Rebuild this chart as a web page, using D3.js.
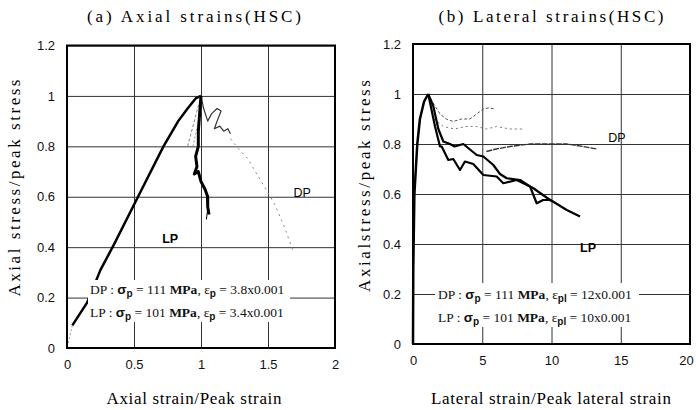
<!DOCTYPE html>
<html>
<head>
<meta charset="utf-8">
<script src="https://cdn.jsdelivr.net/npm/d3@7"></script>
<style>
  body { margin: 0; background: #fff; }
  svg { display: block; }
</style>
</head>
<body>
<svg id="fig" width="696" height="410"></svg>
<script>
// ---- data ----
const yTicks = [0, 0.2, 0.4, 0.6, 0.8, 1, 1.2];
const xTicksA = [0, 0.5, 1, 1.5, 2];
const xTicksB = [0, 5, 10, 15, 20];

// (a) axial strains
const lpAxialUp = [[0.04,0.09],[0.15,0.18],[0.25,0.31],[0.35,0.41],[0.53,0.6],[0.72,0.8],[0.83,0.9],[0.9,0.95],[0.96,0.99],[1.0,1.0]];
const lpAxialDown = [[1.0,1.0],[0.99,0.93],[0.98,0.86],[0.98,0.8],[0.96,0.76],[0.97,0.72],[0.95,0.69],[0.98,0.7],[1.0,0.66],[1.03,0.63],[1.05,0.6],[1.05,0.56],[1.06,0.53]];
const lpAxialTail = [[1.04,0.6],[1.05,0.55],[1.04,0.51]];
const lpAxialStart = [[0.01,0.02],[0.04,0.09]];
const dpAxialUp = [[0.9,0.8],[0.95,0.9],[1.0,1.0]];
const dpAxialUp2 = [[0.94,0.8],[0.98,0.9],[1.01,0.96]];
const dpAxialDown = [[1.0,1.0],[1.02,0.95],[1.05,0.9],[1.08,0.93],[1.12,0.95],[1.15,0.94],[1.12,0.9],[1.1,0.87],[1.14,0.88],[1.17,0.86],[1.2,0.87],[1.22,0.85]];
const dpAxialTail = [[1.22,0.83],[1.28,0.79],[1.35,0.75],[1.45,0.66],[1.55,0.57],[1.63,0.47],[1.69,0.38]];

// (b) lateral strains
const latUp = [[0,0],[0.02,0.3],[0.1,0.6],[0.31,0.8],[0.5,0.9],[0.8,0.97],[1.1,1.0]];
const lpLatA = [[1.1,1.0],[1.47,0.95],[1.83,0.86],[2.19,0.81],[2.67,0.8],[3.0,0.79],[3.63,0.8],[4.6,0.756],[5.08,0.75],[5.8,0.716],[6.28,0.68],[6.77,0.663],[7.73,0.656],[8.45,0.63],[8.69,0.623],[9.9,0.576],[10.1,0.57],[11.1,0.536],[12.06,0.51]];
const lpLatB = [[1.1,1.0],[1.59,0.87],[1.95,0.79],[2.07,0.79],[2.55,0.736],[2.91,0.74],[3.39,0.696],[3.75,0.73],[4.35,0.72],[5.08,0.676],[6.04,0.67],[6.52,0.643],[7.49,0.656],[8.45,0.63],[8.93,0.563],[9.4,0.576],[9.9,0.576],[10.1,0.57]];
const dpLatA = [[1.1,1.0],[1.5,0.96],[1.95,0.92],[2.4,0.9],[2.9,0.89],[3.5,0.9],[4.1,0.9],[4.6,0.92],[5.08,0.94],[5.5,0.945],[5.9,0.94]];
const dpLatB = [[1.5,0.9],[2.2,0.87],[3.0,0.86],[3.8,0.87],[4.6,0.87],[5.3,0.86],[6.04,0.87],[7.0,0.86],[7.96,0.86]];
const dpLatC = [[5.3,0.77],[6.0,0.78],[7.0,0.79],[8.45,0.8],[10.0,0.8],[11.1,0.8],[12.3,0.79],[13.3,0.78]];

// annotation texts
const notesA = [["DP", "111", "p", "3.8x0.001"], ["LP", "101", "p", "3.4x0.001"]];
const notesB = [["DP", "111", "pl", "12x0.001"], ["LP", "101", "pl", "10x0.001"]];

const svg = d3.select("#fig");
const serif = "'Liberation Serif', 'DejaVu Serif', serif";
const sans = "'Liberation Sans', Arial, sans-serif";

function panel(opt) {
  const x = d3.scaleLinear().domain(opt.xDomain).range(opt.xRange);
  const y = d3.scaleLinear().domain([0, 1.2]).range(opt.yRange);
  const g = svg.append("g");
  const w = opt.xRange[1] - opt.xRange[0];
  const h = opt.yRange[0] - opt.yRange[1];

  // grid + tick labels
  const ya = g.append("g")
      .attr("transform", `translate(${opt.xRange[0]},0)`)
      .call(d3.axisLeft(y).tickValues(yTicks).tickSizeInner(-w).tickSizeOuter(0).tickPadding(12).tickFormat(d3.format("")));
  const xa = g.append("g")
      .attr("transform", `translate(0,${opt.yRange[0]})`)
      .call(d3.axisBottom(x).tickValues(opt.xTicks).tickSizeInner(-h).tickSizeOuter(0).tickPadding(12).tickFormat(d3.format("")));
  [ya, xa].forEach(a => {
    a.select(".domain").remove();
    a.selectAll("line").attr("stroke", "#333").attr("stroke-width", 1);
    a.selectAll("text").attr("font-family", sans).attr("font-size", 13).attr("fill", "#111");
  });
  xa.selectAll(".tick:last-of-type text").attr("dx", opt.lastDx);

  const line = d3.line().x(d => x(d[0])).y(d => y(d[1]));
  opt.curves.forEach(c => {
    g.append("path")
        .attr("d", line(c.data))
        .attr("fill", "none")
        .attr("stroke", c.color || "#000")
        .attr("stroke-width", c.width)
        .attr("stroke-dasharray", c.dash || null)
        .attr("stroke-linejoin", "round");
  });

  // white box behind annotation
  g.append("rect")
      .attr("x", opt.box[0]).attr("y", opt.box[1])
      .attr("width", opt.box[2]).attr("height", opt.box[3])
      .attr("fill", "#fff");

  // frame
  g.append("rect")
      .attr("x", opt.xRange[0]).attr("y", opt.yRange[1])
      .attr("width", w).attr("height", h)
      .attr("fill", "none").attr("stroke", "#000").attr("stroke-width", 2);

  // labels DP / LP
  opt.tags.forEach(t => {
    g.append("text").attr("x", x(t[1])).attr("y", y(t[2]))
        .attr("font-family", sans).attr("font-size", 12.5).attr("font-weight", t[0] === "LP" ? "bold" : "normal")
        .text(t[0]);
  });

  // annotations
  opt.notes.forEach((n, i) => {
    const t = g.append("text")
        .attr("x", opt.noteX).attr("y", opt.noteY + i * 23)
        .attr("font-family", serif).attr("font-size", 13.5).attr("fill", "#111");
    t.append("tspan").text(n[0] + " :  ");
    t.append("tspan").attr("font-family", sans).attr("font-weight", "bold").text("σ");
    t.append("tspan").attr("font-family", sans).attr("font-weight", "bold").attr("font-size", 10).attr("dy", 3).text("p");
    t.append("tspan").attr("dy", -3).text(" = " + n[1] + " ");
    t.append("tspan").attr("font-weight", "bold").text("MPa");
    t.append("tspan").text(",  ε");
    t.append("tspan").attr("font-family", sans).attr("font-weight", "bold").attr("font-size", 10).attr("dy", 3).text(n[2]);
    t.append("tspan").attr("dy", -3).text(" = " + n[3]);
  });

  // titles
  g.append("text").attr("x", opt.cx).attr("y", 22).attr("text-anchor", "middle")
      .attr("font-family", serif).attr("font-size", 17).attr("textLength", opt.titleLen)
      .text(opt.title);
  g.append("text").attr("x", opt.cx).attr("y", 404).attr("text-anchor", "middle")
      .attr("font-family", serif).attr("font-size", 17).attr("textLength", opt.xLabelLen)
      .text(opt.xLabel);
  g.append("text").attr("transform", `translate(${opt.yLabelX},${opt.yLabelY}) rotate(-90)`)
      .attr("text-anchor", "middle")
      .attr("font-family", serif).attr("font-size", 17).attr("textLength", opt.yLabelLen)
      .text(opt.yLabel);
}

panel({
  xDomain: [0, 2], xRange: [67, 335], yRange: [348, 45.5], xTicks: xTicksA, lastDx: 0,
  box: [88, 280, 202, 42],
  curves: [
    {data: lpAxialStart, width: 1, color: "#999", dash: "2,2"},
    {data: dpAxialUp, width: 0.8, color: "#666", dash: "3,2"},
    {data: dpAxialUp2, width: 0.8, color: "#888", dash: "2,2"},
    {data: dpAxialDown, width: 1.2, color: "#333"},
    {data: dpAxialTail, width: 1, color: "#888", dash: "2,4"},
    {data: lpAxialUp, width: 2.5},
    {data: lpAxialDown, width: 3},
    {data: lpAxialTail, width: 1}
  ],
  tags: [["DP", 1.69, 0.6], ["LP", 0.71, 0.417]],
  notes: notesA, noteX: 90, noteY: 294,
  title: "(a) Axial strains(HSC)", cx: 194, titleLen: 214,
  xLabel: "Axial strain/Peak strain", xLabelLen: 175,
  yLabel: "Axial stress/peak stress", yLabelX: 20, yLabelY: 188, yLabelLen: 217
});

panel({
  xDomain: [0, 20], xRange: [413, 690], yRange: [344, 44], xTicks: xTicksB, lastDx: -4,
  box: [435, 283, 204, 44],
  curves: [
    {data: dpLatA, width: 1, color: "#555", dash: "3,2"},
    {data: dpLatB, width: 1, color: "#777", dash: "2,3"},
    {data: dpLatC, width: 1.3, color: "#333", dash: "6,1"},
    {data: latUp, width: 2.5},
    {data: lpLatA, width: 2.2},
    {data: lpLatB, width: 2.2}
  ],
  tags: [["DP", 14.1, 0.81], ["LP", 12.06, 0.368]],
  notes: notesB, noteX: 438, noteY: 299,
  title: "(b) Lateral strains(HSC)", cx: 551, titleLen: 225,
  xLabel: "Lateral strain/Peak lateral strain", xLabelLen: 240,
  yLabel: "Axialstress/peak stress", yLabelX: 370, yLabelY: 186, yLabelLen: 212
});
</script>
</body>
</html>
